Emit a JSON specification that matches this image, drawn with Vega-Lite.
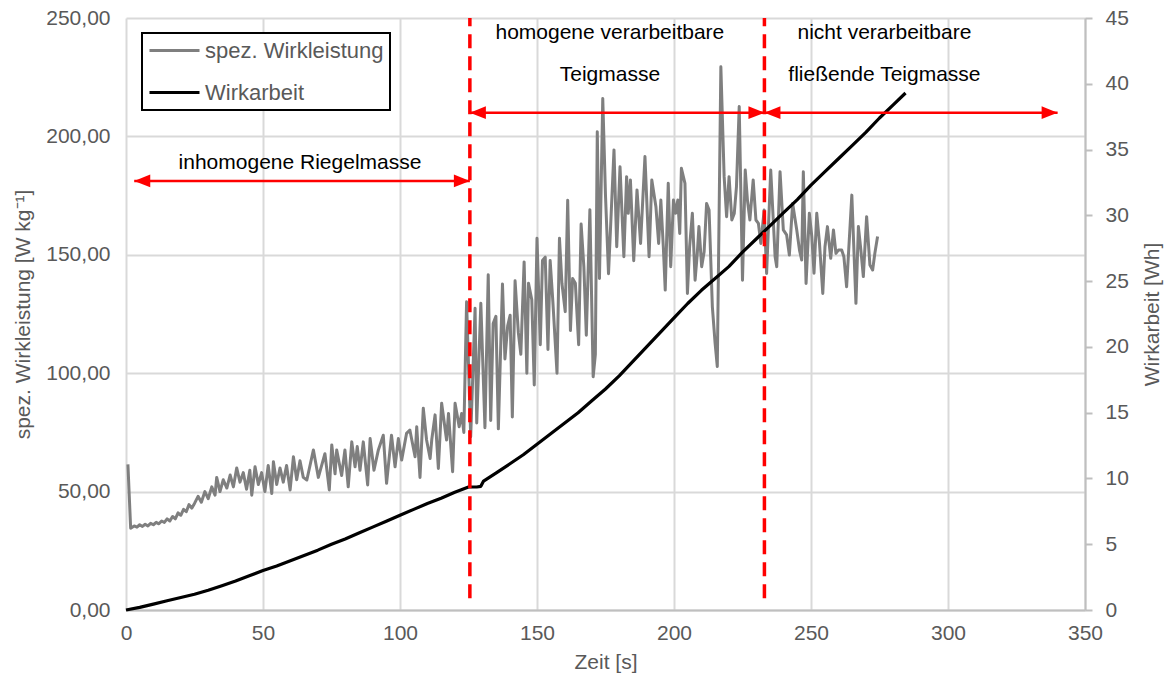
{
  "$schema": "https://vega.github.io/schema/vega-lite/v6.json",
  "width": 959,
  "height": 592,
  "autosize": {"type": "none"},
  "padding": {"left": 126, "top": 18, "right": 83, "bottom": 76},
  "background": "white",
  "config": {
    "font": "Liberation Sans",
    "view": {"stroke": null},
    "axis": {
      "labelFont": "Liberation Sans",
      "labelFontSize": 21,
      "labelColor": "#595959",
      "titleFont": "Liberation Sans",
      "titleFontSize": 21,
      "titleColor": "#595959",
      "titleFontWeight": "normal",
      "gridColor": "#d9d9d9",
      "gridWidth": 2,
      "domainColor": "#bfbfbf",
      "domainWidth": 2,
      "tickColor": "#bfbfbf",
      "tickWidth": 2
    }
  },
  "datasets": {
    "leistung": [
      {"t":0.7,"v":61.5},{"t":1.7,"v":34.5},{"t":3,"v":35.5},{"t":4,"v":35},{"t":5,"v":36},{"t":6,"v":35.3},{"t":7,"v":36.2},{"t":8,"v":35.5},{"t":9,"v":36.6},{"t":10,"v":36},
      {"t":11,"v":37},{"t":12,"v":36.4},{"t":13,"v":37.6},{"t":14,"v":37},{"t":15,"v":38.5},{"t":16,"v":37.6},{"t":17,"v":39.5},{"t":18,"v":38.5},{"t":19,"v":41},{"t":20,"v":40},
      {"t":21,"v":42.5},{"t":22,"v":41.5},{"t":23,"v":44.5},{"t":24,"v":43},{"t":25,"v":45},{"t":26.3,"v":48},{"t":27.5,"v":45.5},{"t":28.8,"v":50},{"t":30,"v":47},{"t":31.3,"v":52},
      {"t":32.5,"v":48.5},{"t":33.1,"v":56},{"t":34.3,"v":50},{"t":35.5,"v":55},{"t":36.8,"v":51.5},{"t":38,"v":57},{"t":39.2,"v":52},{"t":40.4,"v":60},{"t":41.6,"v":54},{"t":42.8,"v":58},
      {"t":44,"v":51},{"t":45.2,"v":59},{"t":45.9,"v":48.5},{"t":47.1,"v":60.5},{"t":48.3,"v":53},{"t":49.5,"v":58},{"t":50.7,"v":50},{"t":51.9,"v":61},{"t":53.2,"v":49.2},{"t":53.8,"v":62.6},
      {"t":55,"v":53},{"t":56.2,"v":60},{"t":57.4,"v":54},{"t":58.6,"v":61},{"t":59.9,"v":50.7},{"t":61.1,"v":64.7},{"t":62.3,"v":55},{"t":63.5,"v":63},{"t":64.7,"v":56},{"t":66,"v":54.9},
      {"t":68.4,"v":67.6},{"t":70.2,"v":56},{"t":72.6,"v":66},{"t":74.2,"v":50.7},{"t":75.1,"v":69.7},{"t":76.3,"v":57.5},{"t":76.9,"v":67.6},{"t":78.7,"v":56.8},{"t":79.9,"v":67.6},{"t":81.1,"v":52},
      {"t":82.4,"v":71},{"t":83.6,"v":60.5},{"t":84.4,"v":69},{"t":85.4,"v":59},{"t":86.6,"v":71},{"t":88.2,"v":52.8},{"t":89.1,"v":72.4},{"t":90.5,"v":59},{"t":92.1,"v":67.6},{"t":93.9,"v":73.8},
      {"t":95.1,"v":53.5},{"t":96.9,"v":73.8},{"t":98.2,"v":60.5},{"t":99.4,"v":72.4},{"t":100.6,"v":63.3},{"t":102.4,"v":74.6},{"t":103.6,"v":76},{"t":105.5,"v":64.7},{"t":106.1,"v":77.4},{"t":107.3,"v":56},
      {"t":108.5,"v":85.2},{"t":109.7,"v":71.8},{"t":111,"v":64},{"t":111.6,"v":72},{"t":112.8,"v":82.4},{"t":114,"v":59.8},{"t":115.2,"v":87.3},{"t":117,"v":71.8},{"t":117.7,"v":83},{"t":119.2,"v":58.4},
      {"t":120.1,"v":87.3},{"t":121.6,"v":77.4},{"t":122.5,"v":83},{"t":123.3,"v":75},{"t":124.3,"v":130.2},{"t":125.8,"v":73.2},{"t":127.4,"v":127.4},{"t":128,"v":79},{"t":129.5,"v":129.5},{"t":131,"v":77},
      {"t":132.2,"v":141.6},{"t":133.1,"v":80},{"t":134,"v":121},{"t":135,"v":124},{"t":135.9,"v":76.5},{"t":137.4,"v":137.7},{"t":138.3,"v":106},{"t":139.3,"v":120},{"t":140.2,"v":124.5},{"t":141,"v":81.5},
      {"t":142,"v":139},{"t":143.2,"v":117},{"t":144.1,"v":108},{"t":145.3,"v":147},{"t":146.3,"v":100},{"t":146.9,"v":138},{"t":148.1,"v":131},{"t":149,"v":95},{"t":150,"v":157},{"t":151.2,"v":112},
      {"t":152,"v":147.6},{"t":153,"v":149},{"t":154,"v":110},{"t":154.8,"v":147.6},{"t":155.8,"v":130},{"t":157.3,"v":100},{"t":158.2,"v":157},{"t":159.1,"v":138},{"t":160.3,"v":126},{"t":161.2,"v":173},
      {"t":162.2,"v":118},{"t":163,"v":140},{"t":164,"v":138},{"t":165.2,"v":112},{"t":166.1,"v":163},{"t":167.1,"v":145},{"t":168,"v":116},{"t":169.3,"v":169},{"t":170.5,"v":98.5},{"t":171.3,"v":108},
      {"t":172,"v":202},{"t":172.8,"v":140},{"t":174,"v":216},{"t":175,"v":175},{"t":176.1,"v":142},{"t":178.1,"v":194.3},{"t":179.1,"v":153.4},{"t":180.3,"v":187.2},{"t":181.7,"v":149.2},{"t":182.7,"v":183},
      {"t":183.3,"v":167.5},{"t":184.1,"v":181.6},{"t":185.3,"v":147.5},{"t":186.5,"v":177.4},{"t":187.8,"v":154.8},{"t":189.4,"v":191.5},{"t":190.9,"v":149.2},{"t":191.9,"v":181.6},{"t":193.4,"v":170.3},{"t":194.4,"v":154.8},
      {"t":195.2,"v":173.1},{"t":196.1,"v":153.4},{"t":196.8,"v":135.1},{"t":197.9,"v":180.2},{"t":198.8,"v":145},{"t":199.8,"v":173.1},{"t":200.6,"v":167.5},{"t":201.4,"v":173.1},{"t":202.1,"v":159},{"t":202.7,"v":186.5},
      {"t":204,"v":180.2},{"t":204.9,"v":133.7},{"t":205.7,"v":153.4},{"t":206.7,"v":167.5},{"t":207.7,"v":139.3},{"t":208.5,"v":150.6},{"t":209.1,"v":161.9},{"t":210.1,"v":145},{"t":211,"v":151.3},{"t":211.9,"v":171.7},
      {"t":212.8,"v":168.9},{"t":214,"v":128},{"t":215,"v":112.7},{"t":215.8,"v":102.8},{"t":217.1,"v":229.4},{"t":218.3,"v":183},{"t":219.2,"v":166.1},{"t":220.1,"v":183},{"t":221.1,"v":164.7},{"t":222,"v":167.5},
      {"t":222.8,"v":178.8},{"t":223.8,"v":212.6},{"t":225,"v":139.3},{"t":226,"v":185.8},{"t":226.8,"v":173.1},{"t":227.7,"v":164.7},{"t":228.9,"v":181.6},{"t":229.9,"v":164.7},{"t":230.8,"v":163.3},{"t":231.7,"v":154.8},
      {"t":232.9,"v":168.9},{"t":233.8,"v":142.1},{"t":235.3,"v":185.8},{"t":236.9,"v":149.2},{"t":237.5,"v":145},{"t":238.7,"v":185.1},{"t":239.9,"v":160.5},{"t":241.1,"v":158.4},{"t":242.1,"v":149.9},{"t":243.3,"v":171.7},
      {"t":244.8,"v":160.5},{"t":245.8,"v":152},{"t":246.6,"v":147.8},{"t":247.2,"v":185.1},{"t":248.2,"v":137.9},{"t":249.4,"v":167.5},{"t":250.3,"v":157.7},{"t":251.1,"v":142.2},{"t":252.1,"v":167.5},{"t":253.1,"v":154.8},
      {"t":254.3,"v":133.7},{"t":255.1,"v":153.4},{"t":256,"v":161.9},{"t":257.2,"v":148.5},{"t":258.2,"v":160.5},{"t":259.1,"v":150.6},{"t":260,"v":152},{"t":261.2,"v":152},{"t":262,"v":149.2},{"t":263,"v":136.5},
      {"t":264.9,"v":175.2},{"t":266.4,"v":129.5},{"t":267.3,"v":161.9},{"t":268.2,"v":152},{"t":269.1,"v":140.8},{"t":270.3,"v":166.1},{"t":271.5,"v":145.7},{"t":272.5,"v":143.6},{"t":273.3,"v":150.6},{"t":274.3,"v":157.7}
    ],
    "arbeit": [
      {"t":0,"wh":0},{"t":5,"wh":0.2},{"t":10,"wh":0.45},{"t":15,"wh":0.7},{"t":20,"wh":0.95},{"t":25,"wh":1.2},{"t":30,"wh":1.5},{"t":35,"wh":1.85},{"t":40,"wh":2.2},{"t":45,"wh":2.6},
      {"t":50,"wh":3.0},{"t":55,"wh":3.35},{"t":60,"wh":3.75},{"t":65,"wh":4.15},{"t":70,"wh":4.55},{"t":75,"wh":5.0},{"t":80,"wh":5.4},{"t":85,"wh":5.85},{"t":90,"wh":6.3},{"t":95,"wh":6.75},
      {"t":100,"wh":7.2},{"t":105,"wh":7.65},{"t":110,"wh":8.1},{"t":115,"wh":8.5},{"t":120,"wh":8.95},{"t":125,"wh":9.35},{"t":128,"wh":9.35},{"t":129.5,"wh":9.4},{"t":130.5,"wh":9.8},{"t":135,"wh":10.4},
      {"t":140,"wh":11.1},{"t":145,"wh":11.8},{"t":150,"wh":12.6},{"t":155,"wh":13.4},{"t":160,"wh":14.2},{"t":165,"wh":15.0},{"t":170,"wh":15.9},{"t":175,"wh":16.8},{"t":180,"wh":17.8},{"t":185,"wh":18.9},
      {"t":190,"wh":20.0},{"t":195,"wh":21.1},{"t":200,"wh":22.2},{"t":205,"wh":23.3},{"t":210,"wh":24.3},{"t":215,"wh":25.2},{"t":220,"wh":26.1},{"t":225,"wh":27.2},{"t":230,"wh":28.2},{"t":235,"wh":29.2},
      {"t":240,"wh":30.2},{"t":245,"wh":31.2},{"t":250,"wh":32.3},{"t":255,"wh":33.3},{"t":260,"wh":34.3},{"t":265,"wh":35.3},{"t":270,"wh":36.3},{"t":275,"wh":37.4},{"t":280,"wh":38.4},{"t":284.5,"wh":39.3}
    ],
    "phasen": [{"t": 125.5}, {"t": 233}],
    "pfeile": [
      {"von": 3, "bis": 125.5, "v": 181.2},
      {"von": 125.5, "bis": 233, "v": 210},
      {"von": 233, "bis": 340, "v": 210}
    ],
    "texte": [
      {"t": 63.5, "v": 186.2, "text": "inhomogene Riegelmasse"},
      {"t": 176.6, "v": 241.1, "text": "homogene verarbeitbare"},
      {"t": 176.6, "v": 223.5, "text": "Teigmasse"},
      {"t": 276.8, "v": 241.1, "text": "nicht verarbeitbare"},
      {"t": 276.8, "v": 223.5, "text": "fließende Teigmasse"}
    ]
  },
  "layer": [
    {
      "data": {"name": "leistung"},
      "mark": {"type": "line", "strokeWidth": 3, "strokeJoin": "round"},
      "encoding": {
        "x": {
          "field": "t", "type": "quantitative",
          "scale": {"domain": [0, 350], "nice": false, "zero": false},
          "axis": {
            "title": "Zeit [s]",
            "values": [0, 50, 100, 150, 200, 250, 300, 350],
            "grid": true, "ticks": false, "domain": true,
            "labelPadding": 12, "titlePadding": 8, "labelFlush": false
          }
        },
        "y": {
          "field": "v", "type": "quantitative",
          "scale": {"domain": [0, 250], "nice": false},
          "axis": {
            "title": "spez. Wirkleistung [W kg⁻¹]",
            "values": [0, 50, 100, 150, 200, 250],
            "grid": true, "ticks": false, "domain": false,
            "labelExpr": "replace(format(datum.value, '.2f'), '.', ',')",
            "labelPadding": 16, "titlePadding": 12
          }
        },
        "color": {
          "datum": "spez. Wirkleistung", "type": "nominal",
          "scale": {"domain": ["spez. Wirkleistung", "Wirkarbeit"], "range": ["#7f7f7f", "#000000"]},
          "legend": {
            "title": null,
            "orient": "none",
            "legendX": 16,
            "legendY": 15,
            "direction": "vertical",
            "fillColor": "white",
            "strokeColor": "black",
            "padding": 6,
            "symbolType": "M-1,0H4",
            "symbolSize": 400,
            "symbolStrokeWidth": 3,
            "labelFont": "Liberation Sans",
            "labelFontSize": 22,
            "labelColor": "#595959",
            "labelOffset": 34,
            "labelLimit": 400,
            "rowPadding": 19,
            "encode": {"legend": {"update": {"strokeWidth": {"value": 2}}}}
          }
        }
      }
    },
    {
      "data": {"name": "arbeit"},
      "mark": {"type": "line", "strokeWidth": 3.2, "strokeJoin": "round"},
      "encoding": {
        "x": {"field": "t", "type": "quantitative"},
        "y": {
          "field": "wh", "type": "quantitative",
          "scale": {"domain": [0, 45], "nice": false},
          "axis": {
            "orient": "right",
            "title": "Wirkarbeit [Wh]",
            "titleAngle": 270,
            "values": [0, 5, 10, 15, 20, 25, 30, 35, 40, 45],
            "grid": false, "ticks": true, "tickSize": 7, "domain": true,
            "labelPadding": 13, "titlePadding": 34
          }
        },
        "color": {"datum": "Wirkarbeit", "type": "nominal"}
      }
    },
    {
      "data": {"name": "phasen"},
      "mark": {"type": "rule", "color": "#ff0000", "strokeWidth": 3.5, "strokeDash": [14, 8]},
      "encoding": {
        "x": {"field": "t", "type": "quantitative"},
        "y": {"datum": 5, "type": "quantitative", "scale": {"domain": [0, 250], "nice": false}, "axis": null},
        "y2": {"datum": 250}
      }
    },
    {
      "data": {"name": "pfeile"},
      "mark": {"type": "rule", "color": "#ff0000", "strokeWidth": 2.5},
      "encoding": {
        "x": {"field": "von", "type": "quantitative"},
        "x2": {"field": "bis"},
        "y": {"field": "v", "type": "quantitative", "scale": {"domain": [0, 250], "nice": false}, "axis": null}
      }
    },
    {
      "data": {"name": "pfeile"},
      "mark": {"type": "point", "shape": "M0,0L2,-0.8L2,0.8Z", "filled": true, "color": "#ff0000", "opacity": 1, "size": 256, "strokeWidth": 0},
      "encoding": {
        "x": {"field": "von", "type": "quantitative"},
        "y": {"field": "v", "type": "quantitative", "scale": {"domain": [0, 250], "nice": false}, "axis": null}
      }
    },
    {
      "data": {"name": "pfeile"},
      "mark": {"type": "point", "shape": "M0,0L-2,-0.8L-2,0.8Z", "filled": true, "color": "#ff0000", "opacity": 1, "size": 256, "strokeWidth": 0},
      "encoding": {
        "x": {"field": "bis", "type": "quantitative"},
        "y": {"field": "v", "type": "quantitative", "scale": {"domain": [0, 250], "nice": false}, "axis": null}
      }
    },
    {
      "data": {"name": "texte"},
      "mark": {"type": "text", "font": "Liberation Sans", "fontSize": 21, "color": "#000000", "align": "center", "baseline": "alphabetic"},
      "encoding": {
        "x": {"field": "t", "type": "quantitative"},
        "y": {"field": "v", "type": "quantitative", "scale": {"domain": [0, 250], "nice": false}, "axis": null},
        "text": {"field": "text"}
      }
    }
  ],
  "resolve": {"scale": {"y": "independent"}}
}
